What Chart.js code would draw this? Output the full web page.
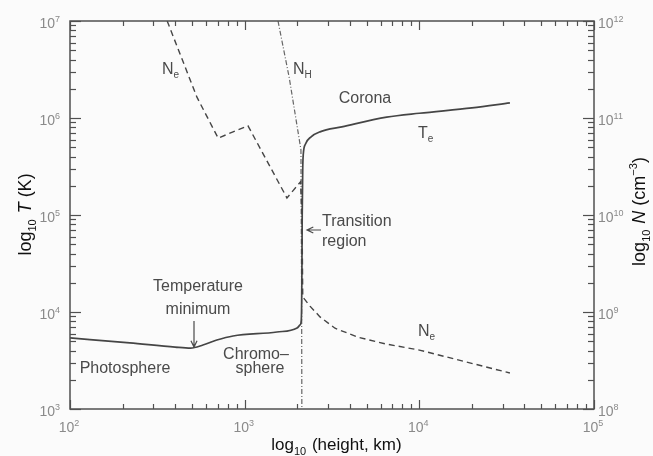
<!DOCTYPE html>
<html>
<head>
<meta charset="utf-8">
<script src="https://cdn.jsdelivr.net/npm/chart.js@4"></script>
<style>
  html, body { margin: 0; padding: 0; background: #fbfbfb; }
</style>
</head>
<body>
<canvas id="myChart" width="653" height="456"></canvas>
<script>
// electron temperature (solid)
const teHeight = [100, 220, 400, 490, 577, 693, 858, 1530, 1995, 2075, 2110, 2125, 2135, 2150, 2165, 2230, 2400, 2700, 3600, 6500, 10000, 20000, 33000];
const teValue = [5400, 4800, 4350, 4250, 4570, 5140, 5660, 6220, 6840, 7350, 8300, 2.0e4, 1.0e5, 3.0e5, 4.2e5, 5.4e5, 6.4e5, 7.2e5, 8.1e5, 1.02e6, 1.12e6, 1.27e6, 1.43e6];

// electron density (dashed)
const neHeight = [360, 533, 705, 858, 1045, 1746, 2090, 2130, 2150, 2366, 2700, 3290, 4460, 6350, 10000, 33000];
const neValue = [1.0e12, 1.64e11, 6.2e10, 7.2e10, 8.3e10, 1.5e10, 2.2e10, 1.0e10, 1.43e9, 1.15e9, 8.9e8, 6.8e8, 5.5e8, 4.7e8, 4.05e8, 2.35e8];

// hydrogen density (dash-dot)
const nhHeight = [1552, 1800, 2100, 2120, 2125];
const nhValue = [1.0e12, 2.6e11, 4.7e10, 1.0e9, 1.0e8];

const xTicks = [1e2, 1e3, 1e4, 1e5];
const tTicks = [1e3, 1e4, 1e5, 1e6, 1e7];
const nTicks = [1e8, 1e9, 1e10, 1e11, 1e12];

const ink = "#454545";
const tickGray = "#8a8a8a";
const font = "'Liberation Sans', Arial, sans-serif";
const narrow = "'Liberation Sans Narrow', 'Liberation Sans', Arial, sans-serif";

const supMap = { "0": "⁰", "1": "¹", "2": "²", "3": "³", "4": "⁴", "5": "⁵", "6": "⁶", "7": "⁷", "8": "⁸", "9": "⁹" };
const isPow10 = (v) => Math.abs(Math.log10(v) - Math.round(Math.log10(v))) < 1e-9;
const expOf = (v) => String(Math.round(Math.log10(v)));
const powLabel = (v) => "10" + expOf(v).split("").map((d) => supMap[d]).join("");

// 1..9 x 10^n tick positions between the major ticks
function logTicks(majors) {
  const out = [];
  for (let i = 0; i < majors.length; i++) {
    out.push(majors[i]);
    if (i < majors.length - 1) for (let k = 2; k <= 9; k++) out.push(majors[i] * k);
  }
  return out;
}

const toPts = (xs, ys) => xs.map((x, i) => ({ x: x, y: ys[i] }));

function fixTicks(list) {
  return (scale) => { scale.ticks = logTicks(list).map((v) => ({ value: v, label: isPow10(v) ? powLabel(v) : "" })); };
}

// draws a run of [text, style] pieces; style: n normal, i italic, sub, sup
function runText(c, x, y, parts, size, align, fam) {
  fam = fam || font;
  const f = (p) => {
    const s = p[1] === "sub" || p[1] === "sup" ? Math.round(size * 0.62) : size;
    return (p[1] === "i" ? "italic " : "") + s + "px " + fam;
  };
  let total = 0;
  parts.forEach((p) => { c.font = f(p); total += c.measureText(p[0]).width; });
  let cx = x;
  if (align === "center") cx = x - total / 2;
  if (align === "right") cx = x - total;
  c.textAlign = "left";
  parts.forEach((p) => {
    c.font = f(p);
    let dy = 0;
    if (p[1] === "sub") dy = size * 0.28;
    if (p[1] === "sup") dy = -size * 0.42;
    c.fillText(p[0], cx, y + dy);
    cx += c.measureText(p[0]).width + (p[1] === "sub" ? 1 : 0);
  });
}

function arrow(c, x1, y1, x2, y2) {
  const ang = Math.atan2(y2 - y1, x2 - x1);
  const h = 7;
  c.beginPath();
  c.moveTo(x1, y1); c.lineTo(x2, y2);
  c.moveTo(x2 - h * Math.cos(ang - 0.45), y2 - h * Math.sin(ang - 0.45));
  c.lineTo(x2, y2);
  c.lineTo(x2 - h * Math.cos(ang + 0.45), y2 - h * Math.sin(ang + 0.45));
  c.stroke();
}

const decor = {
  id: "decor",
  afterDraw(chart) {
    const c = chart.ctx;
    const a = chart.chartArea;
    const sx = chart.scales.x, sy = chart.scales.y, sy2 = chart.scales.y2;
    c.save();
    c.strokeStyle = "#505050";
    c.lineWidth = 1.5;
    c.strokeRect(a.left, a.top, a.right - a.left, a.bottom - a.top);
    c.lineWidth = 1.2;
    const seg = (x1, y1, x2, y2) => { c.beginPath(); c.moveTo(x1, y1); c.lineTo(x2, y2); c.stroke(); };
    sx.ticks.forEach((t) => {
      const p = Math.round(sx.getPixelForValue(t.value)) + 0.5;
      const len = isPow10(t.value) ? 9 : 5;
      seg(p, a.bottom, p, a.bottom - len);
      seg(p, a.top, p, a.top + len);
    });
    sy.ticks.forEach((t) => {
      const p = Math.round(sy.getPixelForValue(t.value)) + 0.5;
      seg(a.left, p, a.left + (isPow10(t.value) ? 11 : 6), p);
    });
    sy2.ticks.forEach((t) => {
      const p = Math.round(sy2.getPixelForValue(t.value)) + 0.5;
      seg(a.right, p, a.right - (isPow10(t.value) ? 11 : 6), p);
    });

    // tick labels: 10 with a raised exponent
    c.fillStyle = tickGray;
    c.textBaseline = "alphabetic";
    sx.ticks.filter((t) => isPow10(t.value)).forEach((t) => {
      runText(c, sx.getPixelForValue(t.value) - 1, 432, [["10", "n"], [expOf(t.value), "sup"]], 14, "center", narrow);
    });
    sy.ticks.filter((t) => isPow10(t.value)).forEach((t) => {
      runText(c, 60, sy.getPixelForValue(t.value) + 7, [["10", "n"], [expOf(t.value), "sup"]], 14, "right", narrow);
    });
    sy2.ticks.filter((t) => isPow10(t.value)).forEach((t) => {
      runText(c, 598, sy2.getPixelForValue(t.value) + 7, [["10", "n"], [expOf(t.value), "sup"]], 14, "left", narrow);
    });

    // annotations
    c.fillStyle = "#4a4a4a";
    c.strokeStyle = "#4a4a4a";
    const an = 16;
    runText(c, 162, 74, [["N", "n"], ["e", "sub"]], an, "left");
    runText(c, 293, 74, [["N", "n"], ["H", "sub"]], an, "left");
    runText(c, 365, 103, [["Corona", "n"]], an, "center");
    runText(c, 418, 138, [["T", "n"], ["e", "sub"]], an, "left");
    runText(c, 418, 336, [["N", "n"], ["e", "sub"]], an, "left");
    runText(c, 322, 226, [["Transition", "n"]], an, "left");
    runText(c, 322, 246, [["region", "n"]], an, "left");
    runText(c, 198, 291, [["Temperature", "n"]], an, "center");
    runText(c, 198, 314, [["minimum", "n"]], an, "center");
    runText(c, 125, 373, [["Photosphere", "n"]], an, "center");
    runText(c, 256, 359, [["Chromo\u2013", "n"]], an, "center");
    runText(c, 260, 373, [["sphere", "n"]], an, "center");
    c.lineWidth = 1.2;
    arrow(c, 321, 230, 307, 230);
    arrow(c, 194, 321, 194, 347);

    // axis titles
    c.fillStyle = "#111";
    runText(c, 336, 450, [["log", "n"], ["10", "sub"], [" (height, km)", "n"]], 17, "center");
    c.save();
    c.translate(31, 215);
    c.rotate(-Math.PI / 2);
    runText(c, 0, 0, [["log", "n"], ["10", "sub"], [" ", "n"], ["T", "i"], [" (K)", "n"]], 18, "center");
    c.restore();
    c.save();
    c.translate(645, 212);
    c.rotate(-Math.PI / 2);
    runText(c, 0, 0, [["log", "n"], ["10", "sub"], [" ", "n"], ["N", "i"], [" (cm", "n"], ["\u22123", "sup"], [")", "n"]], 18, "center");
    c.restore();
    c.restore();
  }
};

new Chart(document.getElementById("myChart"), {
  type: "scatter",
  data: {
    datasets: [
      {
        label: "Te",
        data: toPts(teHeight, teValue),
        yAxisID: "y",
        showLine: true,
        borderColor: ink,
        borderWidth: 1.7,
        pointRadius: 0,
        cubicInterpolationMode: "monotone",
      },
      {
        label: "Ne",
        data: toPts(neHeight, neValue),
        yAxisID: "y2",
        showLine: true,
        borderColor: ink,
        borderWidth: 1.4,
        borderDash: [6, 4],
        pointRadius: 0,
        tension: 0,
      },
      {
        label: "NH",
        data: toPts(nhHeight, nhValue),
        yAxisID: "y2",
        showLine: true,
        borderColor: "#666",
        borderWidth: 1.2,
        borderDash: [5, 2, 1, 2],
        pointRadius: 0,
        tension: 0,
      },
    ],
  },
  options: {
    responsive: false,
    animation: false,
    devicePixelRatio: 1,
    layout: { padding: { top: 21, left: 0, right: 0, bottom: 0 } },
    plugins: {
      legend: { display: false },
      tooltip: { enabled: false },
    },
    scales: {
      x: {
        type: "logarithmic",
        min: 1e2,
        max: 1e5,
        afterBuildTicks: fixTicks(xTicks),
        afterFit: (s) => { s.height = 47; },
        grid: { display: false },
        border: { display: false },
        ticks: { display: false, autoSkip: false },
      },
      y: {
        type: "logarithmic",
        position: "left",
        min: 1e3,
        max: 1e7,
        afterBuildTicks: fixTicks(tTicks),
        afterFit: (s) => { s.width = 70; },
        grid: { display: false },
        border: { display: false },
        ticks: { display: false, autoSkip: false },
      },
      y2: {
        type: "logarithmic",
        position: "right",
        min: 1e8,
        max: 1e12,
        afterBuildTicks: fixTicks(nTicks),
        afterFit: (s) => { s.width = 59; },
        grid: { display: false },
        border: { display: false },
        ticks: { display: false, autoSkip: false },
      },
    },
  },
  plugins: [decor],
});
</script>
</body>
</html>
